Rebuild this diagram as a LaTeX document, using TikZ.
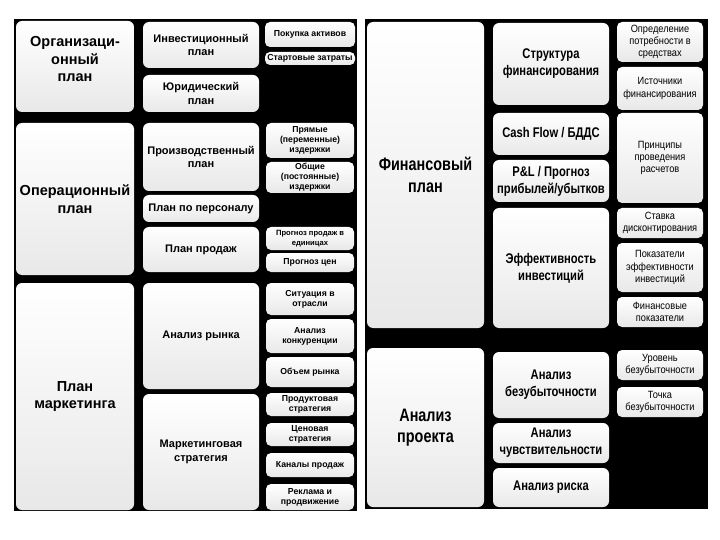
\documentclass[tikz,border=0pt]{standalone}
\usepackage{fontspec}
\setmainfont{Liberation Sans}
\newfontfamily\narrowfont[FakeStretch=0.8]{Liberation Sans}
\newfontfamily\semifont[FakeStretch=0.88]{Liberation Sans}
\tikzset{
  box/.style={rounded corners=6pt, top color=white, bottom color=black!9, draw=none,
    inner sep=0pt, align=center, text=black},
  bigL/.style={font=\fontsize{14.5}{17.5}\selectfont\bfseries},
  midL/.style={font=\fontsize{11}{13.5}\selectfont\bfseries},
  smlL/.style={rounded corners=5pt, font=\fontsize{8.7}{10}\selectfont\bfseries},
  tinyL/.style={rounded corners=5pt, font=\fontsize{7.6}{9.5}\selectfont\bfseries},
  bigR/.style={font=\narrowfont\fontsize{18}{21.5}\selectfont\bfseries},
  midR/.style={font=\narrowfont\fontsize{14}{17}\selectfont\bfseries},
  smlR/.style={rounded corners=5pt, font=\semifont\fontsize{10.5}{12.3}\selectfont},
  plain/.style={inner sep=0pt, align=center, text=black},
  panel/.style={fill=black, draw=none}
}
% \Bx[style]{name}{x1}{y1}{x2}{y2}{text}
\newcommand\Bx[7][]{%
  \node[box,#1,minimum width={#5pt-#3pt},minimum height={#6pt-#4pt}] (#2)
    at ({(#3+#5)/2},{(#4+#6)/2}) {#7};}
\begin{document}
\begin{tikzpicture}[x=1pt,y=-1pt]
\useasboundingbox (0,0) rectangle (720,540);
\fill[white] (0,0) rectangle (720,540);
% panels
\fill[panel] (14,19) rectangle (357,511);
\fill[panel] (365,19) rectangle (708,509);
% ---------------- left panel
\Bx[bigL]{org}{16}{21}{134}{112}{}
\node[plain,bigL,yshift=7pt] (orgtext) at (org.center) {Организаци-\\онный\\план};
\Bx[midL]{inv}{143}{22}{259}{68}{Инвестиционный\\план}
\Bx[midL]{jur}{143}{75}{259}{112}{Юридический\\план}
\Bx[smlL]{buy}{265}{22}{355}{47}{Покупка активов}
\Bx[smlL]{start}{265}{52}{355}{65}{Стартовые затраты}
\Bx[bigL]{oper}{16}{123}{134}{275}{Операционный\\план}
\Bx[midL]{prod}{143}{123}{259}{191}{Производственный\\план}
\Bx[midL]{pers}{143}{195}{259}{222}{План по персоналу}
\Bx[midL]{sale}{143}{227}{259}{272}{План продаж}
\Bx[smlL]{dir}{266}{123}{354}{158}{Прямые\\(переменные)\\издержки}
\Bx[smlL]{gen}{266}{162}{354}{193}{Общие\\(постоянные)\\издержки}
\Bx[tinyL]{fcu}{266}{227}{354}{250}{Прогноз продаж в\\единицах}
\Bx[smlL]{fcp}{266}{253}{354}{272}{Прогноз цен}
\Bx[bigL]{mkt}{16}{283}{134}{510}{План\\маркетинга}
\Bx[midL]{mana}{143}{283}{259}{389}{Анализ рынка}
\Bx[midL]{mstr}{143}{394}{259}{510}{Маркетинговая\\стратегия}
\Bx[smlL]{sit}{266}{283}{354}{315}{Ситуация в\\отрасли}
\Bx[smlL]{comp}{266}{319}{354}{353}{Анализ\\конкуренции}
\Bx[smlL]{vol}{266}{357}{354}{387}{Объем рынка}
\Bx[smlL]{pstr}{266}{393}{354}{416}{Продуктовая\\стратегия}
\Bx[smlL]{cstr}{266}{423}{354}{446}{Ценовая\\стратегия}
\Bx[smlL]{chan}{266}{453}{354}{477}{Каналы продаж}
\Bx[smlL]{adv}{266}{484}{354}{510}{Реклама и\\продвижение}
% ---------------- right panel
\Bx[bigR]{fin}{367}{22}{484}{328}{Финансовый\\план}
\Bx[midR]{struct}{493}{23}{609}{105}{Структура\\финансирования}
\Bx[midR]{cash}{493}{113}{609}{155}{Cash Flow / БДДС}
\Bx[midR]{pl}{493}{160}{609}{202}{P\&L / Прогноз\\прибылей/убытков}
\Bx[midR]{eff}{493}{208}{609}{328}{Эффективность\\инвестиций}
\Bx[smlR]{need}{617}{22}{703}{62}{Определение\\потребности в\\средствах}
\Bx[smlR]{src}{617}{67}{703}{110}{Источники\\финансирования}
\Bx[smlR]{princ}{617}{113}{703}{203}{Принципы\\проведения\\расчетов}
\Bx[smlR]{disc}{617}{208}{703}{238}{Ставка\\дисконтирования}
\Bx[smlR]{ind}{617}{243}{703}{292}{Показатели\\эффективности\\инвестиций}
\Bx[smlR]{find}{617}{297}{703}{327}{Финансовые\\показатели}
\Bx[bigR]{proj}{367}{348}{484}{507}{Анализ\\проекта}
\Bx[midR]{brk}{493}{352}{609}{418}{Анализ\\безубыточности}
\Bx[midR]{sens}{493}{423}{609}{463}{Анализ\\чувствительности}
\Bx[midR]{risk}{493}{468}{609}{507}{Анализ риска}
\Bx[smlR]{lvl}{617}{350}{703}{380}{Уровень\\безубыточности}
\Bx[smlR]{pt}{617}{387}{703}{417}{Точка\\безубыточности}
\end{tikzpicture}
\end{document}
